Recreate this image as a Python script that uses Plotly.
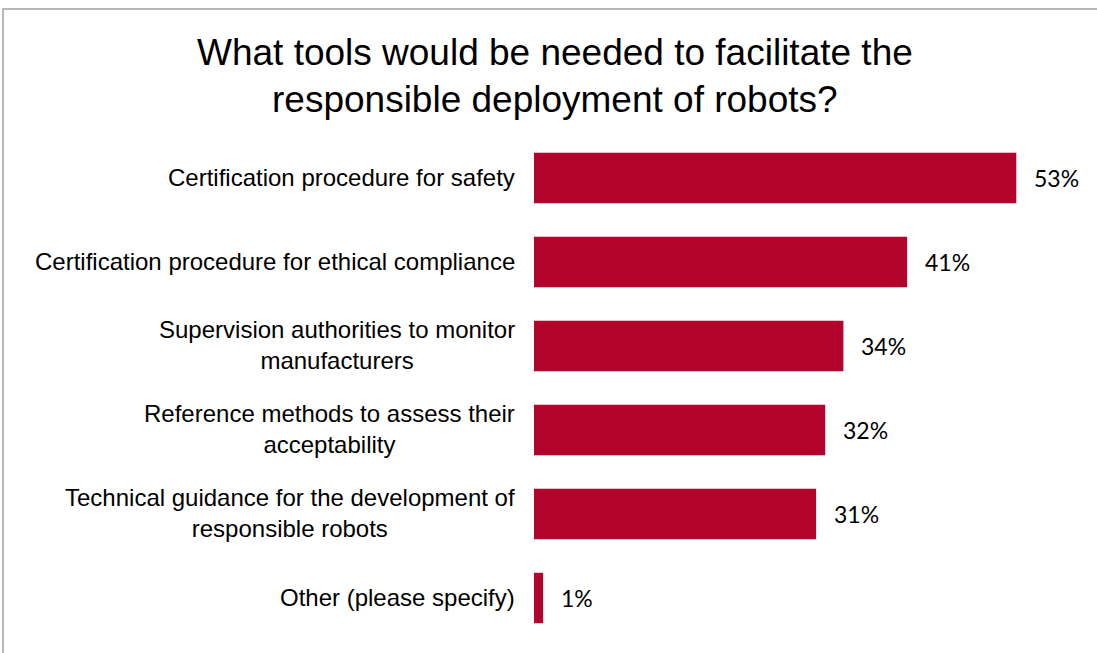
import plotly.graph_objects as go

# Survey answers, top to bottom
categories = [
    "Certification procedure for safety",
    "Certification procedure for ethical compliance",
    "Supervision authorities to monitor<br>manufacturers",
    "Reference methods to assess their<br>acceptability",
    "Technical guidance for the development of<br>responsible robots",
    "Other (please specify)",
]
values = [53, 41, 34, 32, 31, 1]
value_labels = ["53%", "41%", "34%", "32%", "31%", "1%"]
title_lines = [
    "What tools would be needed to facilitate the",
    "responsible deployment of robots?",
]

W, H = 1097, 653
ML, MR, MT, MB = 534, 17, 136, 13
PLOT_W = W - ML - MR
PLOT_H = H - MT - MB

BAR_COLOR = "#B3042C"
LABEL_FONT = "Arial, Liberation Sans, sans-serif"
VALUE_FONT = "Lato, Calibri, sans-serif"


def px_x(px):
    return (px - ML) / PLOT_W


def px_y(py):
    return (H - MB - py) / PLOT_H


fig = go.Figure(
    go.Bar(
        x=values,
        y=categories,
        orientation="h",
        marker=dict(color=BAR_COLOR, line=dict(width=0)),
        width=0.6,
        hoverinfo="skip",
    )
)

annotations = []

# category labels; wrapped lines are centred on each other
for cat in categories:
    annotations.append(dict(
        x=0, y=cat, xref="x", yref="y",
        text=cat, showarrow=False, align="center",
        xanchor="right", yanchor="middle",
        xshift=-17, yshift=1,
        font=dict(family=LABEL_FONT, size=24, color="#000000"),
    ))

# value labels at the bar ends
for cat, v, lab in zip(categories, values, value_labels):
    annotations.append(dict(
        x=v, y=cat, xref="x", yref="y",
        text=lab, showarrow=False,
        xanchor="left", yanchor="middle",
        xshift=16, yshift=0,
        font=dict(family=VALUE_FONT, size=23, color="#000000"),
    ))

# two-line heading
for line, py in zip(title_lines, [53, 99]):
    annotations.append(dict(
        x=px_x(555), y=px_y(py), xref="paper", yref="paper",
        text=line, showarrow=False,
        xanchor="center", yanchor="middle",
        font=dict(family=LABEL_FONT, size=37, color="#000000"),
    ))

fig.update_layout(
    width=W, height=H,
    margin=dict(l=ML, r=MR, t=MT, b=MB, pad=0),
    paper_bgcolor="white",
    plot_bgcolor="white",
    showlegend=False,
    xaxis=dict(range=[0, 60], visible=False, fixedrange=True),
    yaxis=dict(
        type="category",
        categoryorder="array",
        categoryarray=categories,
        range=[len(categories) - 0.5, -0.5],
        showticklabels=False,
        showgrid=False,
        zeroline=False,
        showline=False,
        ticks="",
        fixedrange=True,
    ),
    annotations=annotations,
    shapes=[
        # frame: top edge and left edge only
        dict(type="path", xref="paper", yref="paper",
             path="M {x0},{y1} L {x0},{y0} L {x1},{y0}".format(
                 x0=px_x(3), y0=px_y(9), x1=px_x(W + 4), y1=px_y(H + 4)),
             line=dict(color="#A0A0A0", width=1.5)),
    ],
)

fig.write_html("out.html", config=dict(displayModeBar=False))
